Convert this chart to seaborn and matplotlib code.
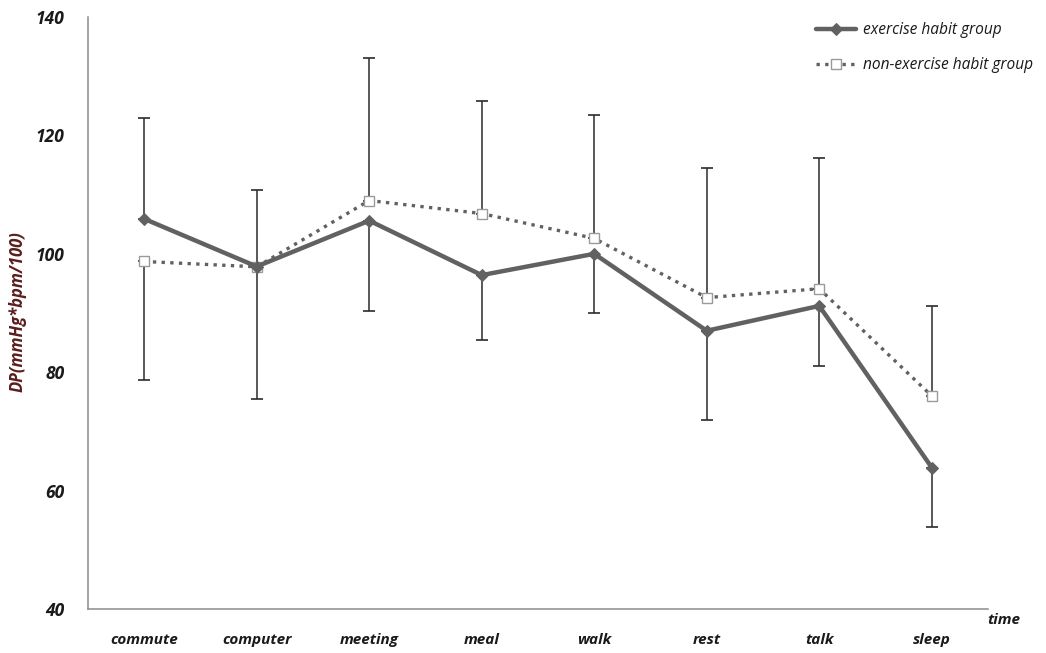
import numpy as np
import pandas as pd
import matplotlib
matplotlib.use("Agg")
import matplotlib.pyplot as plt
import seaborn as sns

categories = ["commute", "computer", "meeting", "meal", "walk", "rest", "talk", "sleep"]

exercise_mean = [105.9, 97.85, 105.6, 96.4, 100.0, 87.0, 91.2, 63.9]
non_exercise_mean = [98.7, 97.8, 109.0, 106.8, 102.6, 92.6, 94.1, 76.0]

# one-sided standard deviations (upper / lower whisker per group)
exercise_sd_up = [17.0, 0.0, 0.0, 0.0, 0.0, 0.0, 0.0, 0.0]
exercise_sd_down = [0.0, 22.4, 15.3, 11.0, 10.0, 15.0, 10.1, 10.0]
non_exercise_sd_up = [0.0, 13.0, 24.0, 19.0, 20.8, 21.9, 22.1, 15.1]
non_exercise_sd_down = [20.0, 0.0, 0.0, 0.0, 0.0, 0.0, 0.0, 0.0]

group_names = ["exercise habit group", "non-exercise habit group"]
y_ticks = [40, 60, 80, 100, 120, 140]

sns.set_theme(style="white")
plt.rcParams["font.family"] = ["Open Sans", "DejaVu Sans"]

df = pd.DataFrame({
    "time": list(range(len(categories))) * 2,
    "DP": exercise_mean + non_exercise_mean,
    "group": [group_names[0]] * len(categories) + [group_names[1]] * len(categories),
})

fig = plt.figure(figsize=(10.46, 6.53), dpi=100)
ax = fig.add_axes([88 / 1046, 44 / 653, 900 / 1046, 592 / 653])

line_grey = "#616161"
bar_col = "#2b2b2b"

x = np.arange(len(categories))

# error bars first so lines and markers sit on top
ax.errorbar(x, exercise_mean, yerr=[exercise_sd_down, exercise_sd_up], fmt="none",
            ecolor=bar_col, elinewidth=1.1, capsize=4, capthick=1.2, zorder=1)
ax.errorbar(x, non_exercise_mean, yerr=[non_exercise_sd_down, non_exercise_sd_up], fmt="none",
            ecolor=bar_col, elinewidth=1.1, capsize=4, capthick=1.2, zorder=1)

sns.lineplot(data=df[df.group == group_names[1]], x="time", y="DP", ax=ax,
             color=line_grey, linewidth=2.4, linestyle=(0, (1, 1.6)),
             marker="s", markersize=7.5, markerfacecolor="white",
             markeredgecolor="#9a9a9a", markeredgewidth=1.0,
             label=group_names[1], legend=False, zorder=3)
sns.lineplot(data=df[df.group == group_names[0]], x="time", y="DP", ax=ax,
             color=line_grey, linewidth=3.2, marker="D", markersize=6.5,
             markerfacecolor=line_grey, markeredgecolor=line_grey,
             label=group_names[0], legend=False, zorder=4)

ax.set_xlim(-0.5, 7.5)
ax.set_ylim(40, 140)

# axis styling
for side in ["top", "right"]:
    ax.spines[side].set_visible(False)
for side in ["left", "bottom"]:
    ax.spines[side].set_color("#8c8c8c")
    ax.spines[side].set_linewidth(1.1)

ax.set_yticks(y_ticks)
ax.set_yticklabels([str(v) for v in y_ticks], fontsize=12.5, fontweight="bold",
                   fontstyle="italic", color="#1a1a1a")
ax.tick_params(axis="y", direction="in", length=3, width=1, color="#8c8c8c", pad=17)

ax.set_xticks(np.arange(0.5, 8.0, 1.0))
ax.set_xticklabels([])
ax.tick_params(axis="x", direction="in", length=5, width=1, color="#8c8c8c")
for xi, name in zip(x, categories):
    ax.text(xi, -0.052, name, transform=ax.get_xaxis_transform(), ha="center", va="center",
            fontsize=11, fontweight="bold", fontstyle="italic", color="#1a1a1a")

ax.text(1004 / 1046, 1 - 620 / 653, "time", transform=fig.transFigure, ha="center",
        va="center", fontsize=11, fontweight="bold", fontstyle="italic", color="#1a1a1a")

ax.set_xlabel("")
ax.set_ylabel("")
fig.text(18 / 1046, 1 - 312 / 653, "DP(mmHg*bpm/100)", rotation=90, ha="center",
         va="center", fontsize=12, fontweight="bold", fontstyle="italic", color="#5a1e1e")

handles, labels = ax.get_legend_handles_labels()
order = [labels.index(g) for g in group_names]
leg = ax.legend([handles[i] for i in order], [labels[i] for i in order],
                loc="upper left", bbox_to_anchor=(802 / 1046, 1 - 8 / 653),
                bbox_transform=fig.transFigure, frameon=False, handlelength=2.6,
                handletextpad=0.45, labelspacing=1.25,
                prop={"size": 11.2, "style": "italic"})
for t in leg.get_texts():
    t.set_color("#1a1a1a")

fig.savefig("out.png", dpi=100, facecolor="white")
